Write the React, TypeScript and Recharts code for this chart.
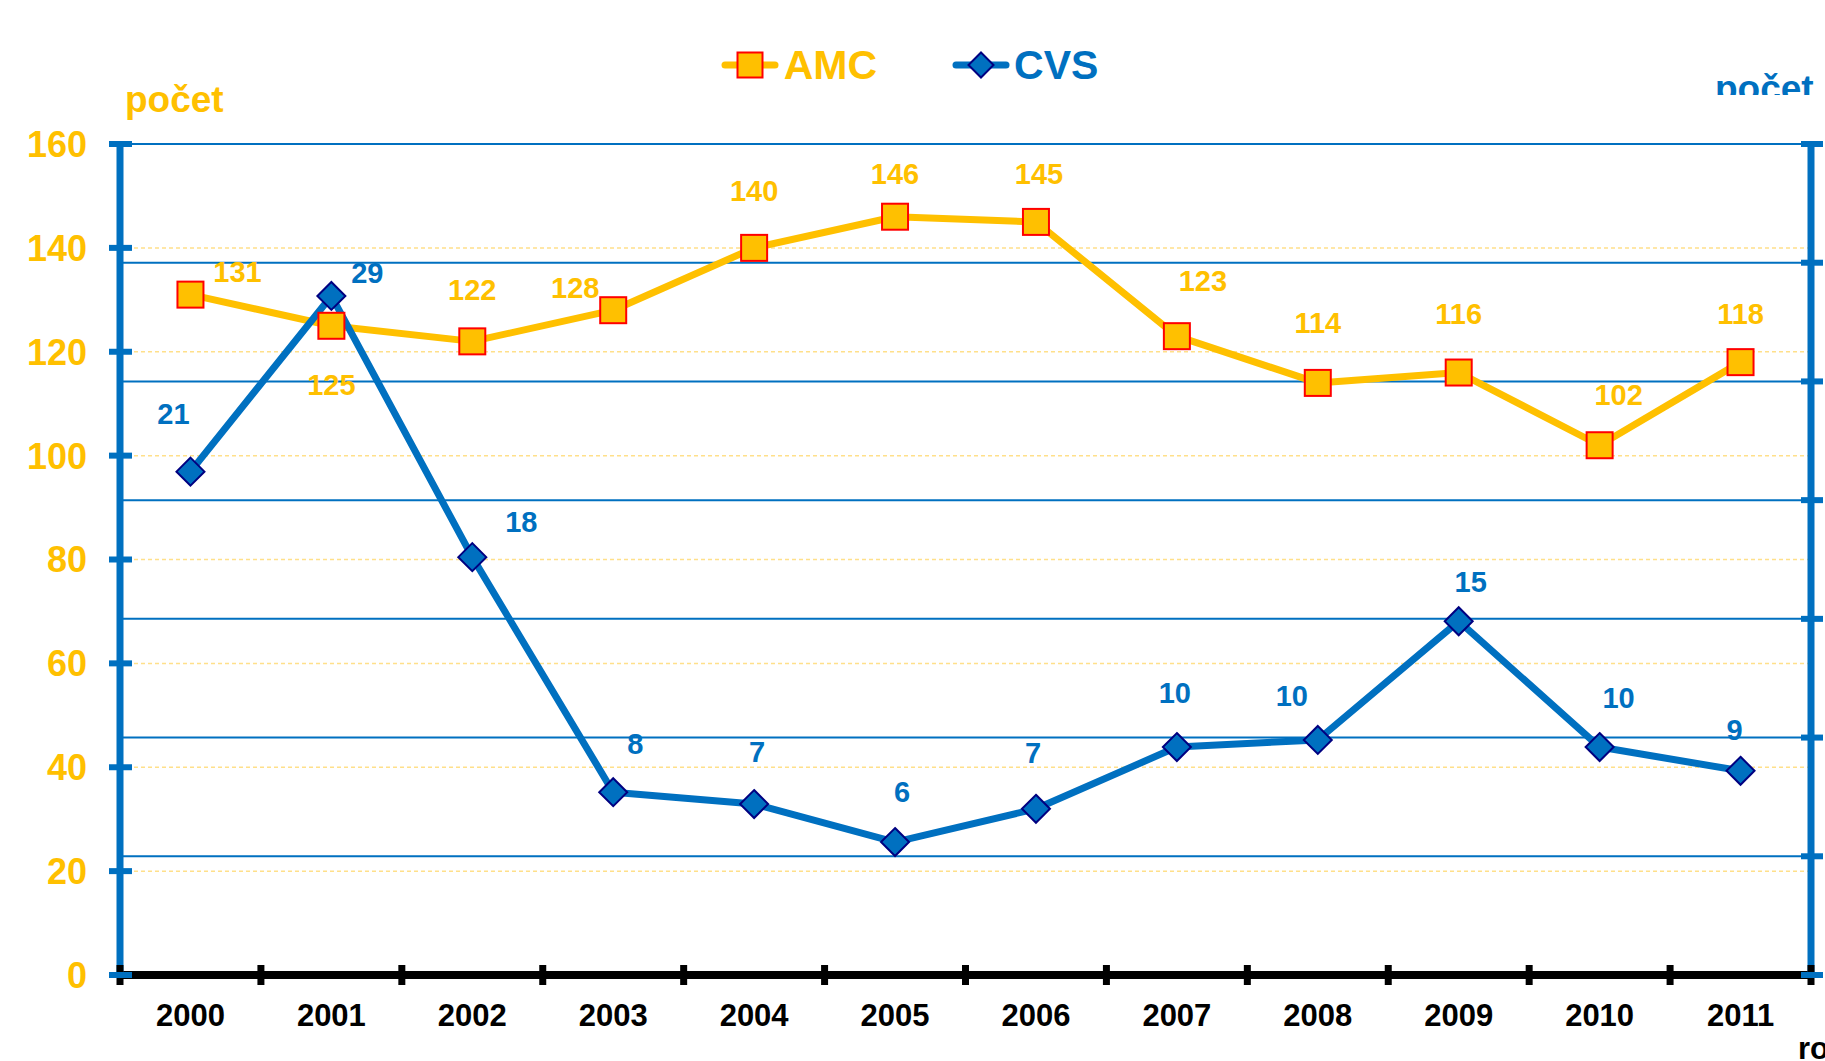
import { ComposedChart, Line, XAxis, YAxis, CartesianGrid, Legend, LabelList } from 'recharts';

const YEARS = ['2000', '2001', '2002', '2003', '2004', '2005', '2006', '2007', '2008', '2009', '2010', '2011'];
const AMC = [131, 125, 122, 128, 140, 146, 145, 123, 114, 116, 102, 118];
const CVS = [21.2, 28.6, 17.6, 7.7, 7.2, 5.6, 7.0, 9.6, 9.9, 14.9, 9.6, 8.6];
const LEFT_TICKS = [0, 20, 40, 60, 80, 100, 120, 140, 160];
const RIGHT_TICKS = [0, 5, 10, 15, 20, 25, 30, 35];

// label placement around each point (dx, dy in px)
const AMC_LABEL_POS = [[47, -23], [0, 59], [0, -52], [-38, -23], [0, -57], [0, -43], [3, -48], [26, -56], [0, -60], [0, -59], [19, -51], [0, -49]];
const CVS_LABEL_POS = [[-17, -58], [36, -23], [49, -36], [22, -49], [3, -52], [7, -50], [-3, -56], [-2, -55], [-26, -44], [12, -40], [19, -50], [-6, -41]];

const AMBER = '#FFC000';
const BLUE = '#0070C0';
const FONT = '"Liberation Sans", Arial, sans-serif';

const W = 1825;
const H = 1061;
const PLOT_LEFT = 120;
const PLOT_RIGHT = 1811;
const BAND = (PLOT_RIGHT - PLOT_LEFT) / YEARS.length;

const chartData = YEARS.map((year, i) => ({ year, AMC: AMC[i], CVS: CVS[i] }));

const XTick = (props: any) => {
  const { x, y, payload, index } = props;
  const axisY = y - 10;
  return (
    <g>
      <line x1={x - BAND / 2} x2={x - BAND / 2} y1={axisY - 10} y2={axisY + 10} stroke="#000" strokeWidth={7} />
      {index === YEARS.length - 1 && (
        <line x1={x + BAND / 2} x2={x + BAND / 2} y1={axisY - 10} y2={axisY + 10} stroke="#000" strokeWidth={7} />
      )}
      <text x={x} y={axisY + 51} textAnchor="middle" fill="#000" fontSize={31} fontWeight={700} fontFamily={FONT}>
        {payload.value}
      </text>
    </g>
  );
};

const LeftTick = (props: any) => {
  const { x, y, payload } = props;
  const ax = x + 33;
  return (
    <g>
      <line x1={ax - 11} x2={ax + 12} y1={y} y2={y} stroke={BLUE} strokeWidth={6} />
      <text x={x} y={y} dy="0.36em" textAnchor="end" fill={AMBER} fontSize={36} fontWeight={700} fontFamily={FONT}>
        {payload.value}
      </text>
    </g>
  );
};

const RightTick = (props: any) => {
  const { x, y } = props;
  const ax = x - 8;
  return <line x1={ax - 10} x2={ax + 12} y1={y} y2={y} stroke={BLUE} strokeWidth={6} />;
};

const SquareDot = (props: any) => {
  const { cx, cy, index } = props;
  if (cx == null || cy == null) return null;
  return <rect key={`a${index}`} x={cx - 13} y={cy - 13} width={26} height={26} fill={AMBER} stroke="#FF0000" strokeWidth={2} />;
};

const DiamondDot = (props: any) => {
  const { cx, cy, index } = props;
  if (cx == null || cy == null) return null;
  const r = 14;
  return (
    <polygon
      key={`c${index}`}
      points={`${cx},${cy - r} ${cx + r},${cy} ${cx},${cy + r} ${cx - r},${cy}`}
      fill={BLUE}
      stroke="#000080"
      strokeWidth={2}
    />
  );
};

const makeLabel = (offsets: number[][], color: string) => (props: any) => {
  const { index, value } = props;
  const x = props.x ?? props.viewBox?.x;
  const y = props.y ?? props.viewBox?.y;
  const [dx, dy] = offsets[index] || [0, -40];
  return (
    <text
      x={x + dx}
      y={y + dy}
      dy="0.36em"
      textAnchor="middle"
      fill={color}
      fontSize={29}
      fontWeight={700}
      fontFamily={FONT}
    >
      {Math.round(Number(value))}
    </text>
  );
};

const renderLegend = () => (
  <div
    style={{
      display: 'flex',
      justifyContent: 'center',
      alignItems: 'center',
      gap: 75,
      height: 48,
      paddingRight: 6,
      fontFamily: FONT,
      fontWeight: 700,
      fontSize: 41,
    }}
  >
    <div style={{ display: 'flex', alignItems: 'center' }}>
      <svg width={58} height={30}>
        <line x1={4} x2={54} y1={15} y2={15} stroke={AMBER} strokeWidth={7} strokeLinecap="round" />
        <rect x={16.5} y={2.5} width={25} height={25} fill={AMBER} stroke="#FF0000" strokeWidth={2} />
      </svg>
      <span style={{ marginLeft: 5, color: AMBER }}>AMC</span>
    </div>
    <div style={{ display: 'flex', alignItems: 'center' }}>
      <svg width={58} height={30}>
        <line x1={4} x2={54} y1={15} y2={15} stroke={BLUE} strokeWidth={7} strokeLinecap="round" />
        <polygon points="29,2.5 41.5,15 29,27.5 16.5,15" fill={BLUE} stroke="#000080" strokeWidth={2} />
      </svg>
      <span style={{ marginLeft: 4, color: BLUE }}>CVS</span>
    </div>
  </div>
);

export default function App() {
  return (
    <div style={{ position: 'absolute', left: 0, top: 0, width: W, height: H, overflow: 'hidden', background: '#fff' }}>
      <ComposedChart width={W} height={H} data={chartData} margin={{ top: 144, right: 0, bottom: 0, left: 0 }}>
        <CartesianGrid yAxisId="left" vertical={false} stroke="#FFE08A" strokeDasharray="4 3" strokeWidth={1.5} />
        <CartesianGrid yAxisId="right" vertical={false} stroke={BLUE} strokeWidth={2} />
        <XAxis
          dataKey="year"
          scale="band"
          height={86}
          interval={0}
          axisLine={{ stroke: '#000', strokeWidth: 8 }}
          tickLine={false}
          tickSize={10}
          tickMargin={0}
          tick={XTick}
        />
        <YAxis
          yAxisId="left"
          width={120}
          domain={[0, 160]}
          ticks={LEFT_TICKS}
          interval={0}
          axisLine={{ stroke: BLUE, strokeWidth: 7 }}
          tickLine={false}
          tickSize={11}
          tickMargin={22}
          tick={LeftTick}
        />
        <YAxis
          yAxisId="right"
          orientation="right"
          width={14}
          domain={[0, 35]}
          ticks={RIGHT_TICKS}
          interval={0}
          axisLine={{ stroke: BLUE, strokeWidth: 7 }}
          tickLine={false}
          tickSize={8}
          tickMargin={0}
          tick={RightTick}
        />
        <Line
          yAxisId="left"
          dataKey="AMC"
          stroke={AMBER}
          strokeWidth={7}
          strokeLinejoin="round"
          dot={SquareDot}
          activeDot={false}
          isAnimationActive={false}
        >
          <LabelList dataKey="AMC" content={makeLabel(AMC_LABEL_POS, AMBER)} />
        </Line>
        <Line
          yAxisId="right"
          dataKey="CVS"
          stroke={BLUE}
          strokeWidth={7}
          strokeLinejoin="round"
          dot={DiamondDot}
          activeDot={false}
          isAnimationActive={false}
        >
          <LabelList dataKey="CVS" content={makeLabel(CVS_LABEL_POS, BLUE)} />
        </Line>
        <Legend
          verticalAlign="middle"
          align="center"
          layout="horizontal"
          wrapperStyle={{ top: 41, left: 0, width: W }}
          content={renderLegend}
        />
      </ComposedChart>
      <svg
        width={W}
        height={H}
        style={{ position: 'absolute', left: 0, top: 0, pointerEvents: 'none' }}
      >
        <defs>
          <clipPath id="rightTitleClip">
            <rect x={1700} y={0} width={125} height={95} />
          </clipPath>
        </defs>
        <text x={125} y={112} fill={AMBER} fontSize={37} fontWeight={700} fontFamily={FONT}>
          počet
        </text>
        <g clipPath="url(#rightTitleClip)">
          <text x={1715} y={101} fill={BLUE} fontSize={37} fontWeight={700} fontFamily={FONT}>
            počet
          </text>
        </g>
        <text x={1798} y={1059} fill="#000" fontSize={31} fontWeight={700} fontFamily={FONT}>
          rok
        </text>
      </svg>
    </div>
  );
}
